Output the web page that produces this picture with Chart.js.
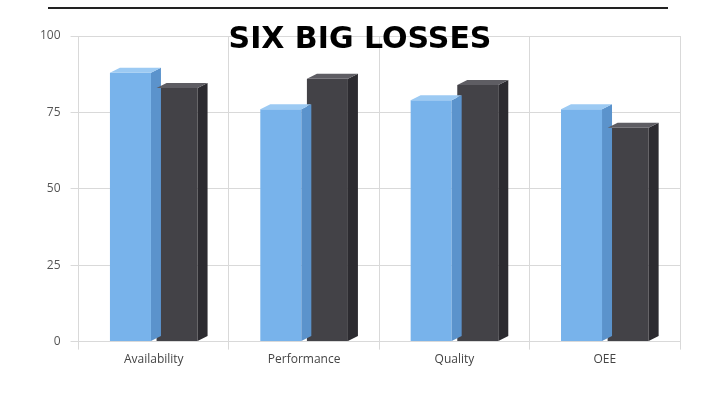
<!DOCTYPE html>
<html><head><meta charset="utf-8">
<script src="https://cdn.jsdelivr.net/npm/chart.js@4"></script>
<style>html,body{margin:0;background:#fff}#w{width:720px;height:400px;position:relative}</style>
</head><body><div id="w"><canvas id="c"></canvas></div>
<script>
const categories = ["Availability","Performance","Quality","OEE"];
const seriesA = [88, 76, 79, 76];
const seriesB = [83, 86, 84, 70];
const yTicks = [0,25,50,75,100];
const titleText = 'SIX BIG LOSSES';

const depth = {
  id:'depth',
  afterDatasetsDraw(chart){
    const ctx=chart.ctx, d=10;
    const sides=['#5b93cc','#2c2b30'], tops=['#9ccaf3','#5e5d63'];
    chart.data.datasets.forEach((ds,i)=>{
      chart.getDatasetMeta(i).data.forEach(b=>{
        const x1=b.x+b.width/2, x0=b.x-b.width/2, y=b.y, yb=b.base;
        ctx.fillStyle=sides[i];
        ctx.beginPath();ctx.moveTo(x1,y);ctx.lineTo(x1+d,y-5);ctx.lineTo(x1+d,yb-5);ctx.lineTo(x1,yb);ctx.closePath();ctx.fill();
        ctx.fillStyle=tops[i];
        ctx.beginPath();ctx.moveTo(x0,y);ctx.lineTo(x0+d,y-5);ctx.lineTo(x1+d,y-5);ctx.lineTo(x1,y);ctx.closePath();ctx.fill();
      });
    });
    ctx.strokeStyle='#222';ctx.lineWidth=2;
    ctx.beginPath();ctx.moveTo(48,8);ctx.lineTo(668,8);ctx.stroke();
    ctx.fillStyle='#000';ctx.textAlign='center';ctx.textBaseline='middle';
    ctx.font='bold 30px "DejaVu Sans"';
    ctx.fillText(titleText,360,40);
  }
};

new Chart(document.getElementById('c'),{
  type:'bar',
  data:{labels:categories,datasets:[
    {label:'A',data:seriesA,backgroundColor:'#78b3eb'},
    {label:'B',data:seriesB,backgroundColor:'#434247'}
  ]},
  options:{
    responsive:true,maintainAspectRatio:false,animation:false,
    layout:{padding:{left:30,right:40,top:36,bottom:30}},
    datasets:{bar:{categoryPercentage:0.62,barPercentage:0.88}},
    plugins:{legend:{display:false},tooltip:{enabled:false},title:{display:false}},
    scales:{
      x:{grid:{color:'#d9d9d9'},border:{display:false},
        ticks:{color:'#444',font:{family:'Open Sans',size:12}}},
      y:{min:0,max:100,afterBuildTicks(s){s.ticks=yTicks.map(v=>({value:v}));},
        grid:{color:'#d9d9d9'},border:{display:false},
        ticks:{color:'#555',font:{family:'Open Sans',size:12},padding:10}}
    }
  },
  plugins:[depth]
});
</script></body></html>
